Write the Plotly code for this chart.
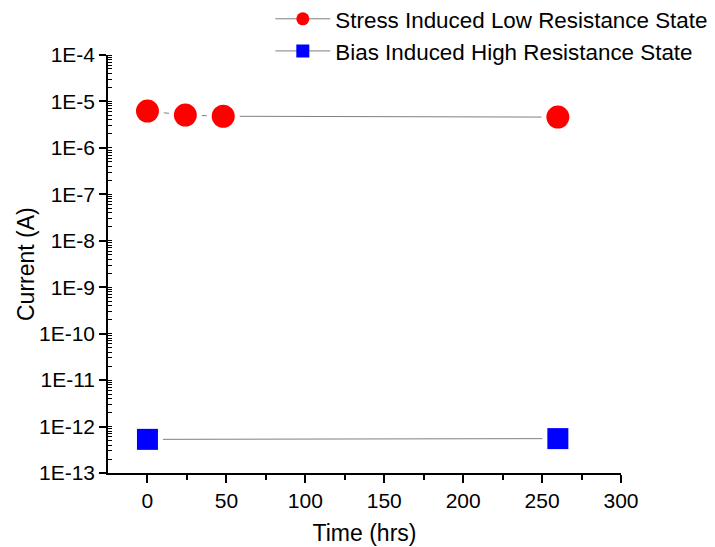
import plotly.graph_objects as go

time_lrs = [0, 24, 48, 260]
current_lrs = [6.2e-6, 5.1e-6, 4.8e-6, 4.6e-6]
time_hrs = [0, 260]
current_hrs = [5.3e-13, 5.5e-13]

ytick_vals = [1e-4, 1e-5, 1e-6, 1e-7, 1e-8, 1e-9, 1e-10, 1e-11, 1e-12, 1e-13]
ytick_text = ["1E-4", "1E-5", "1E-6", "1E-7", "1E-8", "1E-9", "1E-10", "1E-11", "1E-12", "1E-13"]

FONT = "Liberation Sans, Arial, sans-serif"
LINE = dict(color="#7f7f7f", width=1)

fig = go.Figure()

def add_series(x, y, name, color, symbol, size):
    # connecting line
    fig.add_trace(go.Scatter(x=x, y=y, mode="lines", line=LINE, showlegend=False, hoverinfo="skip"))
    # white halo giving a gap between line and markers
    fig.add_trace(go.Scatter(x=x, y=y, mode="markers", showlegend=False, hoverinfo="skip",
                             marker=dict(symbol=symbol, size=size + 10, color="white")))
    # the markers themselves
    fig.add_trace(go.Scatter(x=x, y=y, mode="markers", showlegend=False, name=name,
                             marker=dict(symbol=symbol, size=size, color=color)))
    # legend entry
    fig.add_trace(go.Scatter(x=[None], y=[None], mode="lines+markers", name=name,
                             line=LINE, marker=dict(symbol=symbol, size=13, color=color)))

add_series(time_lrs, current_lrs, "Stress Induced Low Resistance State", "#ff0000", "circle", 23)
add_series(time_hrs, current_hrs, "Bias Induced High Resistance State", "#0000ff", "square", 21)

fig.update_layout(
    width=715, height=547,
    margin=dict(l=108, r=94, t=55, b=74, autoexpand=False),
    paper_bgcolor="white", plot_bgcolor="white",
    font=dict(family=FONT, size=21, color="black"),
    showlegend=True,
    legend=dict(x=(270 - 108) / 512, y=1.137, xanchor="left", yanchor="top",
                bgcolor="rgba(0,0,0,0)", font=dict(size=22.4), tracegroupgap=0,
                itemwidth=55, borderwidth=0),
    annotations=[dict(text="Current (A)", textangle=-90, xref="paper", yref="paper",
                      x=0, y=0.5, xshift=-82, xanchor="center", yanchor="middle",
                      showarrow=False, font=dict(size=23))],
)

fig.update_xaxes(
    range=[-25, 300], tickvals=[0, 50, 100, 150, 200, 250, 300],
    showline=True, linecolor="black", linewidth=1.5, mirror=False,
    ticks="outside", ticklen=8, tickwidth=1.5, tickcolor="black",
    tickfont=dict(size=21),
    minor=dict(tickvals=[25, 75, 125, 175, 225, 275], ticks="outside", ticklen=5, tickwidth=1.5, tickcolor="black"),
    showgrid=False, zeroline=False,
    title=dict(text="Time (hrs)", font=dict(size=23), standoff=14),
)

fig.update_yaxes(
    type="log", range=[-13, -4], tickvals=ytick_vals, ticktext=ytick_text,
    showline=True, linecolor="black", linewidth=1.5, mirror=False,
    ticks="outside", ticklen=7, tickwidth=1.5, tickcolor="black",
    tickfont=dict(size=21),
    minor=dict(dtick="D1", ticks="inside", ticklen=4, tickwidth=1, tickcolor="black"),
    showgrid=False, zeroline=False,
)

fig.write_html("out.html")
